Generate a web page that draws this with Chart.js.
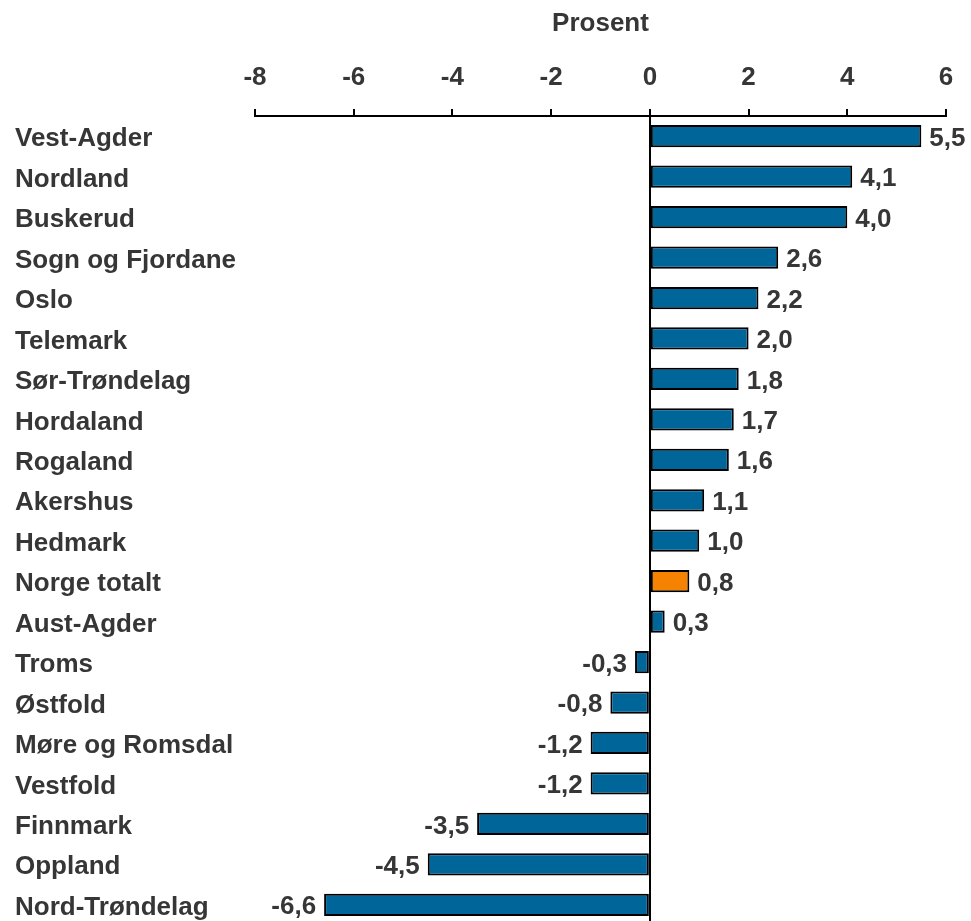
<!DOCTYPE html>
<html>
<head>
<meta charset="utf-8">
<script src="https://cdn.jsdelivr.net/npm/chart.js@4/dist/chart.umd.min.js"></script>
<style>
  html, body { margin: 0; padding: 0; background: #fff; overflow: hidden; }
  #c { display: block; }
</style>
</head>
<body>
<canvas id="c" width="971" height="930"></canvas>
<script>
const categories = ["Vest-Agder","Nordland","Buskerud","Sogn og Fjordane","Oslo","Telemark","Sør-Trøndelag","Hordaland","Rogaland","Akershus","Hedmark","Norge totalt","Aust-Agder","Troms","Østfold","Møre og Romsdal","Vestfold","Finnmark","Oppland","Nord-Trøndelag"];
const values = [5.5, 4.1, 4.0, 2.6, 2.2, 2.0, 1.8, 1.7, 1.6, 1.1, 1.0, 0.8, 0.3, -0.3, -0.8, -1.2, -1.2, -3.5, -4.5, -6.6];
const highlight = "Norge totalt";
const axisTitle = "Prosent";
const xMin = -8, xMax = 6, xStep = 2;

const BLUE = '#00669a', ORANGE = '#f58200', TEXT = '#363636';
const FONT = "'Liberation Sans', Arial, sans-serif";
const FS = 26;

const valueLabels = {
  id: 'valueLabels',
  afterDatasetsDraw(chart) {
    const ctx = chart.ctx;
    const meta = chart.getDatasetMeta(0);
    ctx.save();
    ctx.font = `bold ${FS}px ${FONT}`;
    ctx.fillStyle = TEXT;
    ctx.textBaseline = 'middle';
    meta.data.forEach((bar, i) => {
      const v = values[i];
      const txt = v.toFixed(1).replace('.', ',');
      if (v >= 0) { ctx.textAlign = 'left'; ctx.fillText(txt, bar.x + 8, bar.y + 2.5); }
      else { ctx.textAlign = 'right'; ctx.fillText(txt, bar.x - 8, bar.y + 2.5); }
    });
    ctx.restore();
  }
};

new Chart(document.getElementById('c'), {
  type: 'bar',
  data: {
    labels: categories,
    datasets: [{
      data: values,
      backgroundColor: categories.map(c => c === highlight ? ORANGE : BLUE),
      borderColor: '#000',
      borderWidth: 2,
      borderSkipped: false,
      barPercentage: 0.55,
      categoryPercentage: 1
    }]
  },
  options: {
    indexAxis: 'y',
    responsive: false,
    maintainAspectRatio: false,
    animation: false,
    layout: { padding: { left: 15, right: 25, top: 0, bottom: 5 } },
    plugins: { legend: { display: false }, tooltip: { enabled: false } },
    scales: {
      x: {
        position: 'top',
        min: xMin, max: xMax,
        afterFit(scale) { scale.height = 116; scale.paddingLeft = 0; scale.paddingRight = 0; },
        ticks: {
          stepSize: xStep,
          color: TEXT,
          font: { family: FONT, size: FS, weight: 'bold' },
          padding: 16,
          maxRotation: 0
        },
        grid: {
          color: ctx => (ctx.tick && ctx.tick.value === 0) ? '#000' : 'rgba(0,0,0,0)',
          lineWidth: 2,
          drawTicks: true,
          tickLength: 7,
          tickColor: '#000',
          tickWidth: 2
        },
        border: { display: true, color: '#000', width: 2 },
        title: {
          display: true,
          text: axisTitle,
          color: TEXT,
          font: { family: FONT, size: FS, weight: 'bold' },
          padding: { top: 8, bottom: 0 }
        }
      },
      y: {
        afterFit(scale) { scale.width = 240; scale.paddingTop = 0; scale.paddingBottom = 0; },
        grid: { display: false },
        border: { display: false },
        ticks: {
          crossAlign: 'far',
          labelOffset: 3,
          color: TEXT,
          font: { family: FONT, size: FS, weight: 'bold' }
        }
      }
    }
  },
  plugins: [valueLabels]
});
</script>
</body>
</html>
